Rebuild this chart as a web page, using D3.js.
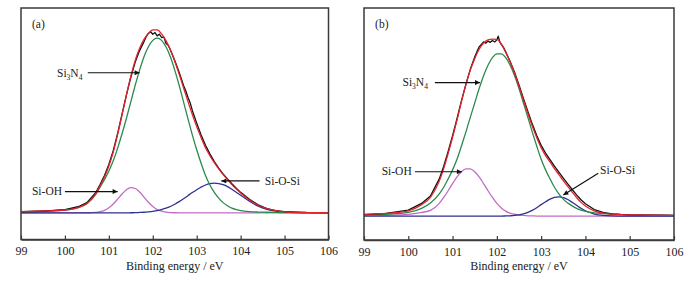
<!DOCTYPE html>
<html>
<head>
<meta charset="utf-8">
<script src="https://cdn.jsdelivr.net/npm/d3@7"></script>
<style>
body { margin: 0; background: #fff; }
svg { display: block; font-family: "Liberation Serif", "Times New Roman", serif; }
.frame { fill: none; stroke: #3a3a3a; stroke-width: 1.5; }
.xAxis path { stroke: #3a3a3a; stroke-width: 1.5; }
.xAxis line { stroke: #3a3a3a; stroke-width: 1.2; }
.xAxis text { font-size: 12px; fill: #222; font-family: "Liberation Serif", serif; }
.curve { fill: none; stroke-width: 1.3; stroke-linejoin: round; }
.label { font-size: 11.5px; fill: #222; }
.arrow { stroke: #111; stroke-width: 1.2; }
</style>
</head>
<body>
<div id="chart"></div>
<script>
// binding energy grid used by the fitted components (eV)
var energies = [99, 99.5, 100, 100.3, 100.5, 100.7, 100.8, 100.9, 101.0, 101.1, 101.2, 101.3, 101.4, 101.5, 101.6,
	101.7, 101.8, 101.9, 102.0, 102.1, 102.2, 102.3, 102.4, 102.5, 102.6, 102.7, 102.8, 102.9, 103.0, 103.1, 103.2,
	103.3, 103.4, 103.5, 103.6, 103.7, 103.8, 103.9, 104.0, 104.2, 104.4, 104.6, 104.8, 105.0, 105.5, 106];

var xTicks = [99, 100, 101, 102, 103, 104, 105, 106];

// panel (a)
var si3n4A = [0.6, 0.9, 1.4, 2.6, 4.5, 9.0, 12.6, 16.2, 20.4, 25.4, 31.6, 38.6, 46.2, 54.2, 62.3,
	69.7, 76.2, 81.1, 84.2, 85.3, 84.2, 81.1, 76.2, 69.7, 62.3, 54.2, 46.0, 38.1, 30.8, 24.2, 18.2,
	13.6, 10.0, 7.2, 5.0, 3.5, 2.3, 1.6, 1.1, 0.6, 0.4, 0.3, 0.2, 0.15, 0.1, 0.05];
var siohA = [0, 0, 0, 0, 0.05, 0.25, 0.6, 1.25, 2.5, 4.3, 6.7, 9.2, 11.3, 12.3, 11.9,
	10.2, 7.7, 5.2, 3.1, 1.6, 0.8, 0.35, 0.15, 0.05, 0, 0, 0, 0, 0, 0, 0,
	0, 0, 0, 0, 0, 0, 0, 0, 0, 0, 0, 0, 0, 0, 0];
var siosiA = [0, 0, 0, 0, 0, 0, 0, 0, 0, 0, 0, 0, 0, 0.05, 0.1,
	0.2, 0.3, 0.5, 0.75, 1.1, 1.6, 2.3, 3.1, 4.2, 5.5, 6.9, 8.4, 9.9, 11.3, 12.6, 13.6,
	14.25, 14.5, 14.3, 13.75, 12.8, 11.5, 10.1, 8.6, 5.7, 3.3, 1.75, 0.85, 0.35, 0.05, 0];
var envelopeA = [0.6, 0.9, 1.4, 2.6, 4.6, 9.3, 13.2, 17.5, 22.9, 29.7, 38.3, 47.8, 57.5, 66.6, 74.4,
	80.3, 84.7, 87.6, 89.3, 89.3, 87.4, 84.1, 79.6, 74.0, 67.8, 61.1, 54.4, 48.0, 42.1, 36.8, 31.8,
	27.9, 24.5, 21.5, 18.75, 16.3, 13.8, 11.7, 9.7, 6.3, 3.7, 2.05, 1.05, 0.5, 0.15, 0.05];
var measuredEnergyA = [99, 99.5, 100, 100.3, 100.5, 100.7, 100.8, 100.9, 101.0, 101.1, 101.2, 101.3, 101.4, 101.5,
	101.6, 101.7, 101.8, 101.85, 101.9, 101.95, 102.0, 102.05, 102.1, 102.15, 102.2, 102.25, 102.3, 102.35, 102.4,
	102.5, 102.6, 102.7, 102.75, 102.8, 102.85, 102.9, 103.0, 103.1, 103.2, 103.3, 103.4, 103.5, 103.6, 103.7,
	103.8, 103.9, 104.0, 104.2, 104.4, 104.6, 104.8, 105.0, 105.5, 106];
var measuredA = [0.5, 0.8, 1.6, 3.0, 5.0, 9.8, 13.8, 18.2, 23.6, 30.4, 38.8, 48.2, 57.6, 66.2,
	73.6, 79.2, 83.6, 86.0, 87.6, 88.4, 87.2, 88.0, 86.4, 87.2, 85.6, 85.9, 82.8, 81.8, 79.6,
	74.4, 68.6, 62.2, 59.6, 56.4, 53.8, 50.0, 43.8, 38.0, 33.0, 28.8, 25.0, 21.8, 19.0, 16.6,
	14.2, 12.0, 10.0, 6.6, 3.9, 2.1, 1.1, 0.6, 0.2, 0.1];

// panel (b)
var si3n4B = [0.6, 0.9, 1.8, 3.8, 6.4, 10.9, 14.1, 18.2, 22.6, 27.8, 34.3, 41.1, 48.3, 55.3, 62.4,
	68.7, 73.8, 77.5, 79.4, 79.4, 77.5, 73.8, 68.7, 62.4, 55.3, 48.3, 41.1, 34.3, 27.8, 22.6, 18.2,
	14.1, 10.9, 8.3, 6.4, 5.0, 3.8, 2.9, 2.3, 1.6, 1.2, 0.9, 0.7, 0.6, 0.4, 0.3];
var siohB = [0.2, 0.4, 0.8, 1.8, 2.8, 6.2, 9.1, 12.4, 15.9, 19.2, 21.7, 23.1, 23.1, 21.7, 19.2,
	15.9, 12.4, 9.1, 6.2, 4.0, 2.4, 1.4, 0.9, 0.5, 0.3, 0.15, 0.1, 0, 0, 0, 0,
	0, 0, 0, 0, 0, 0, 0, 0, 0, 0, 0, 0, 0, 0, 0];
var siosiB = [0, 0, 0, 0, 0, 0, 0, 0, 0, 0, 0, 0, 0, 0, 0,
	0, 0, 0, 0, 0, 0.06, 0.15, 0.3, 0.6, 1.1, 1.8, 2.8, 4.1, 5.6, 7.0, 8.3,
	9.14, 9.4, 9.0, 8.1, 6.75, 5.3, 3.8, 2.6, 1.0, 0.3, 0.07, 0.02, 0, 0, 0];
var envelopeB = [0.8, 1.3, 2.6, 5.6, 9.2, 17.1, 23.2, 30.6, 38.5, 47.0, 56.0, 64.2, 71.4, 77.0, 81.6,
	84.6, 86.2, 86.6, 86.4, 84.2, 80.0, 75.35, 69.9, 63.5, 56.7, 50.25, 44.0, 38.4, 33.4, 29.6, 26.5,
	23.2, 20.3, 17.3, 14.5, 11.75, 9.1, 6.7, 4.9, 2.6, 1.5, 0.97, 0.7, 0.6, 0.4, 0.3];
var measuredEnergyB = [99, 99.5, 100, 100.3, 100.5, 100.7, 100.8, 100.9, 101.0, 101.1, 101.2, 101.3, 101.4, 101.5,
	101.55, 101.6, 101.65, 101.7, 101.75, 101.8, 101.85, 101.9, 101.95, 102.0, 102.03, 102.07, 102.1, 102.15, 102.2,
	102.3, 102.4, 102.5, 102.6, 102.7, 102.8, 102.9, 103.0, 103.1, 103.2, 103.3, 103.4, 103.5, 103.6, 103.7,
	103.8, 103.9, 104.0, 104.2, 104.4, 104.6, 104.8, 105.0, 105.5, 106];
var measuredB = [0.7, 1.3, 2.9, 6.2, 9.8, 18.2, 24.4, 31.6, 39.4, 47.6, 56.4, 64.4, 71.8, 77.8,
	80.4, 82.8, 84.0, 85.2, 84.6, 85.6, 85.0, 85.9, 85.2, 86.2, 88.0, 85.0, 84.0, 82.6, 80.4,
	75.6, 70.4, 64.2, 57.6, 51.2, 45.0, 39.4, 34.6, 30.8, 27.6, 24.4, 21.5, 18.6, 15.8, 13.0,
	10.4, 8.0, 6.0, 3.2, 1.8, 1.1, 0.8, 0.6, 0.4, 0.3];

// annotations: text anchor and arrow from/to, in energy / intensity units
var labelsA = [
	{text: "(a)", x: 99.25, y: 90.2},
	{text: "Si3N4", x: 99.82, y: 66.3, from: [100.52, 68.4], to: [101.70, 68.4]},
	{text: "Si-OH", x: 99.25, y: 8.5, from: [100.0, 10.4], to: [101.2, 10.4]},
	{text: "Si-O-Si", x: 104.55, y: 13.6, from: [104.43, 15.6], to: [103.56, 15.6]}
];
var labelsB = [
	{text: "(b)", x: 99.25, y: 92.0},
	{text: "Si3N4", x: 99.87, y: 63.4, from: [100.60, 65.3], to: [101.62, 65.3]},
	{text: "Si-OH", x: 99.40, y: 19.9, from: [100.15, 21.7], to: [101.21, 21.7]},
	{text: "Si-O-Si", x: 104.33, y: 20.6, from: [104.29, 20.9], to: [103.50, 10.3]}
];

var colors = {measured: "#111111", envelope: "#e3222b", si3n4: "#2b8a4e", sioh: "#c16cc4", siosi: "#2e3192"};

var svg = d3.select("#chart").append("svg").attr("width", 697).attr("height", 282);

svg.append("defs").append("marker")
	.attr("id", "head")
	.attr("viewBox", "0 0 10 10")
	.attr("refX", 10).attr("refY", 5)
	.attr("markerWidth", 6).attr("markerHeight", 5)
	.attr("markerUnits", "userSpaceOnUse")
	.attr("orient", "auto")
	.append("path").attr("d", "M0,0L10,5L0,10z").attr("fill", "#111");

drawPanel({left: 21, right: 328.5, top: 8, bottom: 239.5}, [-13, 100],
	[si3n4A, siohA, siosiA, envelopeA], measuredEnergyA, measuredA, labelsA);
drawPanel({left: 364, right: 674, top: 8, bottom: 240}, [-11.7, 101.8],
	[si3n4B, siohB, siosiB, envelopeB], measuredEnergyB, measuredB, labelsB);

function drawPanel(box, yDomain, fits, measEnergy, meas, labels) {
	var x = d3.scaleLinear().domain([99, 106]).range([box.left, box.right]);
	var y = d3.scaleLinear().domain(yDomain).range([box.bottom, box.top]);
	var g = svg.append("g");

	var line = d3.line()
		.x(function(d) { return x(d[0]); })
		.y(function(d) { return y(d[1]); })
		.curve(d3.curveMonotoneX);

	function pairs(values) {
		return energies.map(function(e, i) { return [e, values[i]]; });
	}

	g.append("path").attr("class", "curve").attr("stroke", colors.sioh).attr("d", line(pairs(fits[1])));
	g.append("path").attr("class", "curve").attr("stroke", colors.siosi).attr("d", line(pairs(fits[2])));
	g.append("path").attr("class", "curve").attr("stroke", colors.si3n4).attr("d", line(pairs(fits[0])));

	var measLine = d3.line()
		.x(function(d) { return x(d[0]); })
		.y(function(d) { return y(d[1]); });
	g.append("path").attr("class", "curve").attr("stroke", colors.measured).attr("stroke-width", 1.4)
		.attr("d", measLine(measEnergy.map(function(e, i) { return [e, meas[i]]; })));

	g.append("path").attr("class", "curve").attr("stroke", colors.envelope).attr("d", line(pairs(fits[3])));

	// frame round the plot
	g.append("rect").attr("class", "frame")
		.attr("x", box.left).attr("y", box.top)
		.attr("width", box.right - box.left).attr("height", box.bottom - box.top);

	var xAxis = d3.axisBottom(x).tickValues(xTicks).tickFormat(d3.format("d"))
		.tickSizeInner(-4).tickSizeOuter(0).tickPadding(7);
	g.append("g").attr("class", "xAxis")
		.attr("transform", "translate(0," + box.bottom + ")")
		.call(xAxis);

	g.append("text")
		.attr("x", (box.left + box.right) / 2)
		.attr("y", 270)
		.attr("text-anchor", "middle")
		.attr("font-size", "12px")
		.attr("fill", "#222")
		.text("Binding energy / eV");

	labels.forEach(function(l) {
		var t = g.append("text").attr("class", "label").attr("x", x(l.x)).attr("y", y(l.y));
		if (l.text == "Si3N4") {
			t.append("tspan").text("Si");
			t.append("tspan").attr("font-size", "7.5px").attr("dy", 3).text("3");
			t.append("tspan").attr("dy", -3).text("N");
			t.append("tspan").attr("font-size", "7.5px").attr("dy", 3).text("4");
		} else {
			t.text(l.text);
		}
		if (l.from) {
			g.append("line").attr("class", "arrow")
				.attr("x1", x(l.from[0])).attr("y1", y(l.from[1]))
				.attr("x2", x(l.to[0])).attr("y2", y(l.to[1]))
				.attr("marker-end", "url(#head)");
		}
	});
}
</script>
</body>
</html>
